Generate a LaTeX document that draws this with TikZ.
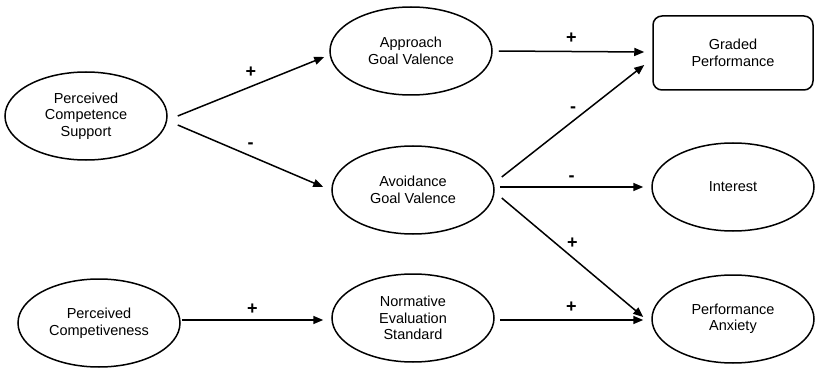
\documentclass[tikz,border=0pt]{standalone}
\usepackage{fontspec}
\setmainfont{Liberation Sans}
\usetikzlibrary{arrows.meta,shapes.geometric}

\tikzset{
  latent/.style={ellipse, draw, line width=1.5pt, minimum width=162pt, minimum height=88pt,
    inner sep=0pt, align=center, font=\fontsize{14.5}{16.5}\selectfont},
  outcome/.style={rectangle, rounded corners=9pt, draw, line width=1.5pt, minimum width=160pt,
    minimum height=74pt, inner sep=0pt, align=center, font=\fontsize{14.5}{16.5}\selectfont},
  effect/.style={-{Triangle[length=10pt,width=8pt]}, line width=1.5pt},
  sign/.style={font=\bfseries\fontsize{18}{18}\selectfont, text height=1.2ex, text depth=0pt, inner sep=1pt}
}

\begin{document}
\begin{tikzpicture}[x=1pt,y=-1pt]
  \useasboundingbox (0,0) rectangle (815,369);

  % Predictors
  \node[latent] (pcs) at (86,116) {Perceived\\Competence\\Support};
  \node[latent] (pc) at (99,323) {Perceived\\Competiveness};

  % Mediators
  \node[latent] (agv) at (411,51) {Approach\\Goal Valence};
  \node[latent] (avg) at (413,190) {Avoidance\\Goal Valence};
  \node[latent] (nes) at (413,318) {Normative\\Evaluation\\Standard};

  % Outcomes
  \node[outcome] (gp) at (733,53) {Graded\\Performance};
  \node[latent] (int) at (733,187) {Interest};
  \node[latent] (pa) at (733,319) {Performance\\Anxiety};

  % Paths
  \draw[effect] ([xshift=10pt]pcs.east) -- ([xshift=-5pt,yshift=-6pt]agv.west)
    node[sign, midway, above=7pt] {+};
  \draw[effect] ([xshift=10pt,yshift=-9pt]pcs.east) -- ([xshift=-8pt,yshift=3pt]avg.west)
    node[sign, midway, above=6pt] {-};
  \draw[effect] ([xshift=6pt]agv.east) -- ([xshift=-8pt,yshift=1pt]gp.west)
    node[sign, midway, above=6pt] {+};
  \draw[effect] ([xshift=7pt,yshift=13pt]avg.east) -- ([xshift=-8pt,yshift=-12pt]gp.west)
    node[sign, midway, above=7pt] {-};
  \draw[effect] ([xshift=5pt,yshift=3pt]avg.east) -- ([xshift=-8pt]int.west)
    node[sign, midway, above=4pt] {-};
  \draw[effect] ([xshift=7pt,yshift=-8pt]avg.east) -- ([xshift=-8pt,yshift=2pt]pa.west)
    node[sign, midway, above=7pt] {+};
  \draw[effect] ([xshift=5pt,yshift=-2pt]nes.east) -- ([xshift=-8pt,yshift=-1pt]pa.west)
    node[sign, midway, above=6pt] {+};
  \draw[effect] ([xshift=1pt,yshift=3pt]pc.east) -- ([xshift=-8pt,yshift=-2pt]nes.west)
    node[sign, midway, above=4pt] {+};
\end{tikzpicture}
\end{document}
